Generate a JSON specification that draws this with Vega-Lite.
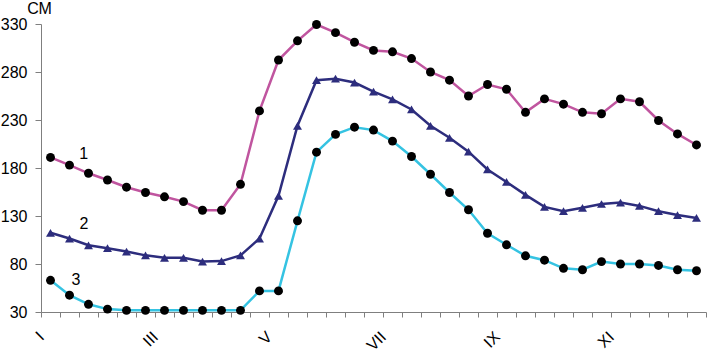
{
  "$schema": "https://vega.github.io/schema/vega-lite/v6.json",
  "width": 665,
  "height": 288,
  "autosize": {"type": "none"},
  "padding": {"left": 41, "top": 24, "right": 1, "bottom": 41},
  "background": "white",
  "config": {
    "view": {"stroke": null},
    "font": "Liberation Sans",
    "axis": {"grid": false, "domainColor": "#7f7f7f", "tickColor": "#7f7f7f", "labelColor": "#000000", "labelFont": "Liberation Sans", "labelFontSize": 16, "titleFont": "Liberation Sans", "titleFontSize": 16, "titleFontWeight": "normal", "titleColor": "#000000", "labelOverlap": false},
    "axisX": {"labelOverlap": false, "labelBound": false, "labelFlush": false}
  },
  "datasets": {
    "snow": [
      {"d": 1, "s1": 191, "s2": 112.5, "s3": 63},
      {"d": 2, "s1": 183, "s2": 106.5, "s3": 47.5},
      {"d": 3, "s1": 174.5, "s2": 99.5, "s3": 38},
      {"d": 4, "s1": 167.5, "s2": 96.5, "s3": 33},
      {"d": 5, "s1": 160, "s2": 93, "s3": 31.7},
      {"d": 6, "s1": 154.5, "s2": 89, "s3": 31.7},
      {"d": 7, "s1": 150, "s2": 86.5, "s3": 31.7},
      {"d": 8, "s1": 145, "s2": 86.5, "s3": 31.7},
      {"d": 9, "s1": 136, "s2": 82.5, "s3": 31.7},
      {"d": 10, "s1": 136, "s2": 83, "s3": 31.7},
      {"d": 11, "s1": 163, "s2": 89, "s3": 31.7},
      {"d": 12, "s1": 239.5, "s2": 106.5, "s3": 52},
      {"d": 13, "s1": 292.5, "s2": 151, "s3": 52},
      {"d": 14, "s1": 312.5, "s2": 224, "s3": 125},
      {"d": 15, "s1": 329.5, "s2": 271.5, "s3": 196.5},
      {"d": 16, "s1": 321, "s2": 273, "s3": 215},
      {"d": 17, "s1": 311, "s2": 269, "s3": 222.5},
      {"d": 18, "s1": 302.5, "s2": 259.5, "s3": 219.5},
      {"d": 19, "s1": 301, "s2": 251.5, "s3": 208},
      {"d": 20, "s1": 294, "s2": 241, "s3": 192},
      {"d": 21, "s1": 280, "s2": 224, "s3": 173.5},
      {"d": 22, "s1": 271.5, "s2": 211.5, "s3": 154.5},
      {"d": 23, "s1": 255, "s2": 197, "s3": 136.5},
      {"d": 24, "s1": 267, "s2": 178.5, "s3": 112},
      {"d": 25, "s1": 262, "s2": 165.5, "s3": 100},
      {"d": 26, "s1": 238, "s2": 152, "s3": 88.5},
      {"d": 27, "s1": 252, "s2": 139.5, "s3": 84},
      {"d": 28, "s1": 246.5, "s2": 135, "s3": 75.5},
      {"d": 29, "s1": 238, "s2": 138.5, "s3": 74},
      {"d": 30, "s1": 236.5, "s2": 142.5, "s3": 82.5},
      {"d": 31, "s1": 252, "s2": 144, "s3": 80},
      {"d": 32, "s1": 249, "s2": 140.5, "s3": 80},
      {"d": 33, "s1": 229.5, "s2": 135, "s3": 78.5},
      {"d": 34, "s1": 215.5, "s2": 131, "s3": 74},
      {"d": 35, "s1": 204, "s2": 128, "s3": 73}
    ],
    "labels": [
      {"d": 2.75, "value": 189.4, "txt": "1"},
      {"d": 2.76, "value": 116.5, "txt": "2"},
      {"d": 2.34, "value": 58.1, "txt": "3"}
    ]
  },
  "encoding": {
    "x": {"field": "d", "type": "quantitative", "scale": {"domain": [0.5, 35.5], "nice": false, "zero": false},
      "axis": {"title": null, "values": [0.5,1.5,2.5,3.5,4.5,5.5,6.5,7.5,8.5,9.5,10.5,11.5,12.5,13.5,14.5,15.5,16.5,17.5,18.5,19.5,20.5,21.5,22.5,23.5,24.5,25.5,26.5,27.5,28.5,29.5,30.5,31.5,32.5,33.5,34.5,35.5],
        "labelExpr": "datum.value == 0.5 ? 'I' : datum.value == 6.5 ? 'III' : datum.value == 12.5 ? 'V' : datum.value == 18.5 ? 'VII' : datum.value == 24.5 ? 'IX' : datum.value == 30.5 ? 'XI' : ''",
        "labelAngle": -45, "labelAlign": "right", "labelBaseline": "middle", "labelPadding": 17, "tickSize": 5, "labelOverlap": false, "labelBound": false, "labelFlush": false}},
    "y": {"field": "value", "type": "quantitative", "scale": {"domain": [30, 330], "nice": false, "zero": false},
      "axis": {"values": [30, 80, 130, 180, 230, 280, 330], "tickSize": 6, "labelPadding": 8, "title": "СМ", "titleAngle": 0, "titleAlign": "center", "titleBaseline": "alphabetic", "titleX": -2, "titleY": -10.5}}
  },
  "layer": [
    {
      "data": {"name": "snow"},
      "transform": [{"fold": ["s1", "s2", "s3"], "as": ["series", "value"]}],
      "layer": [
        {
          "mark": {"type": "line", "strokeWidth": 2.5},
          "encoding": {
            "color": {"field": "series", "type": "nominal", "scale": {"domain": ["s1", "s2", "s3"], "range": ["#c0559f", "#2d2d7d", "#35c3e2"]}, "legend": null},
            "detail": {"field": "series"}
          }
        },
        {
          "mark": {"type": "point", "filled": true, "opacity": 1},
          "encoding": {
            "shape": {"field": "series", "type": "nominal", "scale": {"domain": ["s1", "s2", "s3"], "range": ["circle", "triangle-up", "circle"]}, "legend": null},
            "fill": {"field": "series", "type": "nominal", "scale": {"domain": ["s1", "s2", "s3"], "range": ["#000000", "#2d2d7d", "#000000"]}, "legend": null},
            "size": {"field": "series", "type": "nominal", "scale": {"domain": ["s1", "s2", "s3"], "range": [80, 80, 80]}, "legend": null}
          }
        }
      ]
    },
    {
      "data": {"name": "labels"},
      "mark": {"type": "text", "fontSize": 16, "font": "Liberation Sans", "color": "#000000", "align": "center", "baseline": "alphabetic"},
      "encoding": {
        "text": {"field": "txt"}
      }
    }
  ]
}
